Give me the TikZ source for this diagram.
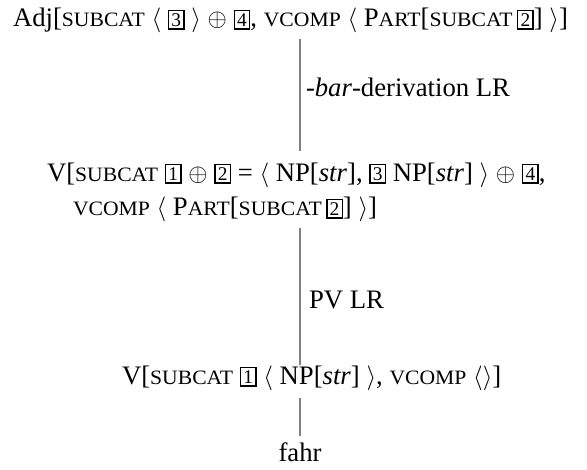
\documentclass[tikz,border=0pt]{standalone}
\usepackage{fontspec}
\setmainfont{Liberation Serif}
\usepackage{graphicx}
\newcommand\smc[1]{\scalebox{1.06}[1]{\fontsize{20.5}{20.5}\selectfont #1}}
\newcommand\tg[1]{\raisebox{-1.3bp}{\setlength\fboxsep{0pt}\setlength\fboxrule{1.4bp}\fbox{\makebox[14bp]{\rule{0pt}{17bp}\raisebox{2bp}{\fontsize{19.5}{19.5}\selectfont #1}}}}}
\newcommand\lab{$\big\langle$}
\newcommand\rab{$\big\rangle$}
\newcommand\opl{$\oplus$}
\begin{document}
\begin{tikzpicture}[x=1bp,y=-1bp,
  every node/.style={inner sep=0pt, outer sep=0pt, font=\fontsize{26.8}{35}\selectfont},
  conn/.style={draw=black!50, line width=1.2bp}]
\useasboundingbox (0,0) rectangle (587,470);
\coordinate (ax) at (300,0);
\node[anchor=base west] (n1) at (13,27)
  {Adj[\smc{SUBCAT} \lab\ \tg{3} \rab\ \opl\ \tg{4}, \smc{VCOMP} \lab\ P\smc{ART}[\smc{SUBCAT}\,\tg{2}] \rab]};
\node[anchor=base west, align=left] (n2) at (47,216)
  {V[\smc{SUBCAT} \tg{1} \opl\ \tg{2} = \lab\ NP[\textit{str}], \tg{3} NP[\textit{str}] \rab\ \opl\ \tg{4},\\
   \hspace*{26bp}\smc{VCOMP} \lab\ P\smc{ART}[\smc{SUBCAT}\,\tg{2}] \rab]};
\node[anchor=base west] (n3) at (122,384)
  {V[\smc{SUBCAT} \tg{1} \lab\ NP[\textit{str}] \rab, \smc{VCOMP} $\langle\rangle$]};
\node[anchor=base] (n4) at (300,461) {fahr};
\node[anchor=base west] (l1) at (306,97) {-\textit{bar}-derivation LR};
\node[anchor=base west] (l2) at (309,308) {PV LR};
\draw[conn, shorten <=6bp, shorten >=12bp] (n1.south -| ax) -- (n2.north -| ax);
\draw[conn, shorten <=6bp, shorten >=0bp] (n2.south -| ax) -- (n3.north -| ax);
\draw[conn, shorten <=8bp, shorten >=6bp] (n3.south -| ax) -- (n4.north -| ax);
\end{tikzpicture}
\end{document}
